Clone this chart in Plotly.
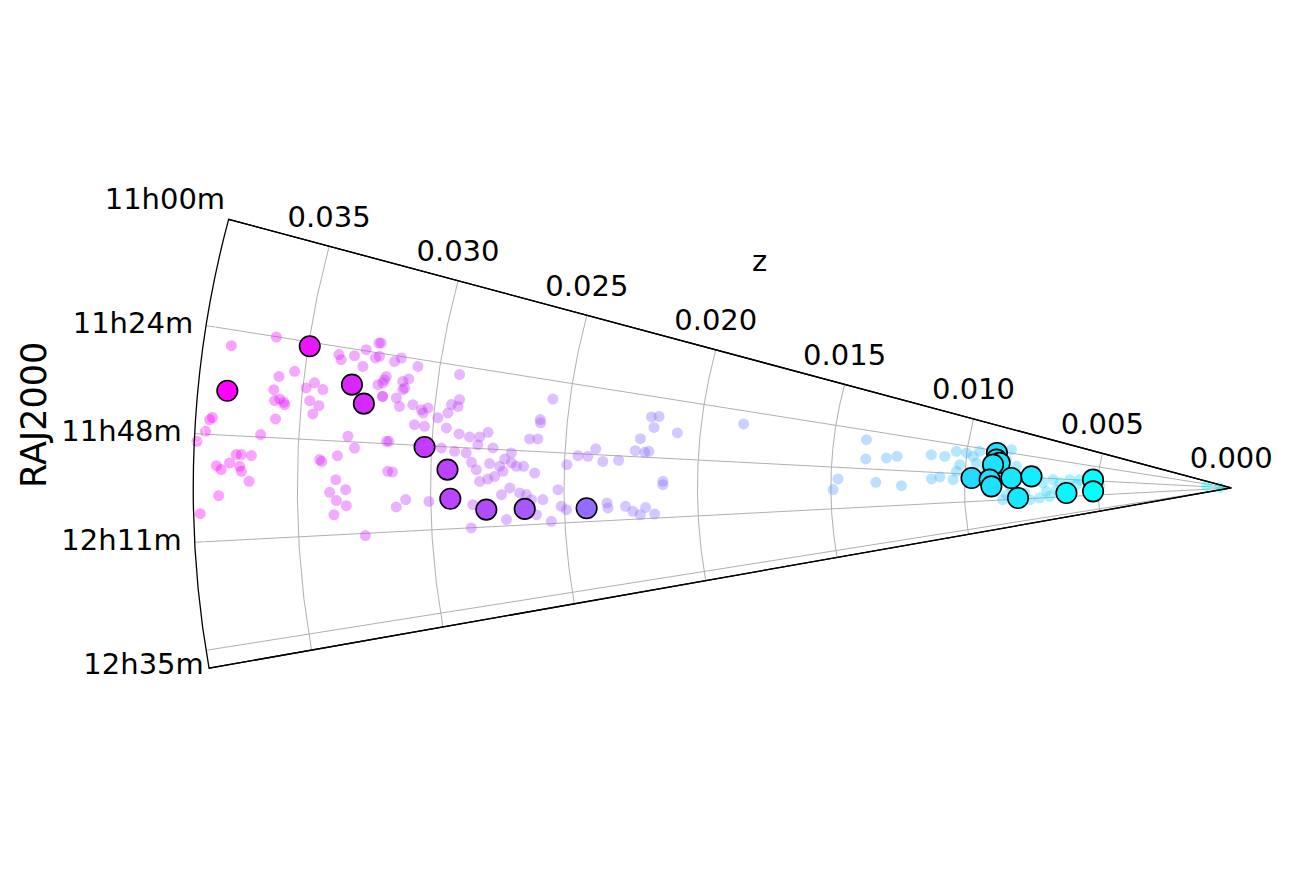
import plotly.graph_objects as go

# all galaxies (faint background points): RA in degrees, redshift z
all_ra = [
    171.90, 171.02, 173.32, 172.90, 174.14, 174.78, 174.66, 174.97, 174.83, 175.87,
    176.17, 176.05, 176.84, 177.42, 176.85, 173.83, 173.46, 173.82, 174.59, 174.85,
    175.39, 171.50, 171.80, 171.42, 170.92, 170.35, 172.03, 171.36, 173.10, 172.71,
    173.84, 176.65, 177.39, 176.84, 178.87, 178.08, 178.07, 178.11, 178.74, 178.96,
    178.57, 178.75, 179.04, 179.61, 180.44, 181.43, 178.22, 178.34, 177.93, 179.47,
    180.11, 180.28, 180.81, 181.15, 181.71, 183.15, 170.32, 171.21, 171.40, 171.10,
    171.50, 172.48, 172.94, 172.67, 172.45, 173.23, 173.10, 173.84, 173.85, 174.40,
    174.19, 174.48, 174.31, 174.70, 175.57, 175.63, 174.95, 175.63, 174.53, 173.90,
    173.47, 173.98, 171.64, 176.83, 176.00, 176.17, 176.12, 175.72, 177.10, 177.30,
    177.38, 176.71, 176.90, 178.07, 178.61, 178.12, 178.31, 177.71, 177.22, 178.01,
    178.27, 178.25, 178.77, 179.50, 179.31, 179.10, 178.69, 178.91, 180.81, 181.30,
    180.96, 181.26, 183.01, 180.53, 180.00, 180.40, 180.54, 180.96, 180.97, 182.50,
    182.20, 182.81, 180.15, 172.53, 174.35, 174.61, 176.00, 175.96, 177.99, 177.17,
    181.57, 181.87, 173.02, 172.87, 174.01, 174.33, 172.52, 175.23, 176.42, 176.52,
    176.40, 176.48, 177.19, 177.58, 177.42, 179.33, 179.67, 181.38, 181.84, 181.74,
    182.24, 182.59, 181.90, 182.58,
    172.46, 175.46, 175.03, 174.60, 173.66, 173.71, 178.69, 180.24, 179.10, 179.60,
    178.28, 177.84, 178.29, 172.41, 172.47, 173.02, 175.10, 176.54, 174.40, 171.72,
    170.12, 172.82, 174.26, 181.71, 178.48, 181.05, 177.33, 178.33, 177.06, 178.78,
    176.86, 182.99, 182.65, 183.32, 181.39, 174.70, 178.50, 175.97, 175.75, 176.95,
    179.00, 179.55, 179.50, 180.56, 179.41, 182.93,
]
all_z = [
    0.03785, 0.03623, 0.03593, 0.03537, 0.03607, 0.03600, 0.03582, 0.03561, 0.03565, 0.03591,
    0.03837, 0.03827, 0.03850, 0.03880, 0.03643, 0.03487, 0.03458, 0.03424, 0.03469, 0.03433,
    0.03453, 0.03381, 0.03370, 0.03323, 0.03283, 0.03240, 0.03286, 0.03244, 0.03221, 0.03199,
    0.03200, 0.03316, 0.03289, 0.03170, 0.03162, 0.03731, 0.03712, 0.03674, 0.03804, 0.03786,
    0.03755, 0.03717, 0.03710, 0.03681, 0.03795, 0.03865, 0.03418, 0.03410, 0.03352, 0.03356,
    0.03319, 0.03379, 0.03354, 0.03317, 0.03364, 0.03250, 0.03232, 0.03230, 0.03171, 0.03148,
    0.03082, 0.03194, 0.03204, 0.03130, 0.03109, 0.03126, 0.03120, 0.03198, 0.03147, 0.03132,
    0.03083, 0.03049, 0.03025, 0.03042, 0.03070, 0.03032, 0.02985, 0.02950, 0.02949, 0.02939,
    0.02911, 0.02914, 0.02923, 0.03162, 0.02901, 0.02861, 0.02823, 0.02793, 0.02964, 0.02914,
    0.02870, 0.02828, 0.02771, 0.02849, 0.02830, 0.02781, 0.02743, 0.02725, 0.02701, 0.02699,
    0.02680, 0.02653, 0.02611, 0.02817, 0.02786, 0.02761, 0.02730, 0.03144, 0.03094, 0.03130,
    0.03007, 0.02843, 0.02852, 0.02735, 0.02704, 0.02667, 0.02642, 0.02623, 0.02580, 0.02719,
    0.02606, 0.02551, 0.02523, 0.02564, 0.02602, 0.02600, 0.02636, 0.02605, 0.02491, 0.02451,
    0.02512, 0.02493, 0.02189, 0.02161, 0.02175, 0.02086, 0.01843, 0.02222, 0.02238, 0.02202,
    0.02187, 0.02386, 0.02414, 0.02357, 0.02298, 0.02130, 0.02130, 0.02340, 0.02337, 0.02271,
    0.02244, 0.02217, 0.02196, 0.02163,
    0.01379, 0.01374, 0.01297, 0.01258, 0.01131, 0.01080, 0.01474, 0.01492, 0.01332, 0.01236,
    0.01124, 0.01093, 0.01043, 0.01039, 0.01001, 0.00975, 0.01021, 0.01032, 0.00960, 0.00953,
    0.00836, 0.00849, 0.00809, 0.00843, 0.00706, 0.00693, 0.00669, 0.00643, 0.00606, 0.00580,
    0.00569, 0.00719, 0.00681, 0.00756, 0.00774, 0.00093, 0.00043, 0.00870, 0.00926, 0.00726,
    0.00493, 0.00624, 0.00530, 0.00654, 0.00830, 0.00858,
]

# selected objects (large outlined markers)
sel_ra = [
    174.47, 171.26, 173.30, 174.45, 177.09, 178.66, 180.79, 181.67, 181.70, 181.80,
    171.50, 173.13, 173.83, 174.41, 177.80, 178.03, 179.62, 177.40, 176.68, 182.69,
    181.74, 176.56, 181.41,
]
sel_z = [
    0.03780, 0.03494, 0.03318, 0.03266, 0.03027, 0.02938, 0.02927, 0.02793, 0.02649, 0.02417,
    0.00888, 0.00886, 0.00873, 0.00897, 0.00974, 0.00906, 0.00899, 0.00825, 0.00750, 0.00800,
    0.00618, 0.00519, 0.00518,
]

ra_ticks = [165, 171, 177, 183, 189]
ra_labels = ["11h00m", "11h24m", "11h48m", "12h11m", "12h35m"]
z_ticks = [0.000, 0.005, 0.010, 0.015, 0.020, 0.025, 0.030, 0.035]

COOL = [[0.0, "rgb(0,255,255)"], [1.0, "rgb(255,0,255)"]]
FONT = "DejaVu Sans"
W, H = 1292, 872
OFF = 8  # page body margin of the html output
Z_MAX = 0.0389
SECTOR = [165, 190]
DOMAIN = dict(
    x=[(193 - OFF) / W, (1231.5 - OFF) / W],
    y=[1 - (668.2 - OFF) / H, 1 - (219.3 - OFF) / H],
)
CLEAR = "rgba(0,0,0,0)"
tick_font = dict(family=FONT, size=29, color="black")

fig = go.Figure()

fig.add_trace(
    go.Scatterpolar(
        r=all_z,
        theta=all_ra,
        mode="markers",
        marker=dict(size=11, color=all_z, colorscale=COOL, opacity=0.38, line=dict(width=0)),
        hoverinfo="skip",
    )
)
fig.add_trace(
    go.Scatterpolar(
        r=sel_z,
        theta=sel_ra,
        mode="markers",
        marker=dict(size=20.5, color=sel_z, colorscale=COOL, line=dict(width=1.6, color="black")),
    )
)

# radial tick labels, centred above the upper edge of the wedge
fig.add_trace(
    go.Scatterpolar(
        r=z_ticks,
        theta=[SECTOR[0]] * len(z_ticks),
        mode="markers+text",
        text=[f"{v:.3f}" for v in z_ticks],
        textposition="top center",
        textfont=tick_font,
        marker=dict(size=18, color=CLEAR),
        cliponaxis=False,
        hoverinfo="skip",
    )
)
# angular tick labels, outside the outer arc
fig.add_trace(
    go.Scatterpolar(
        r=[Z_MAX] * len(ra_ticks),
        theta=ra_ticks,
        mode="markers+text",
        text=ra_labels,
        textposition=["top left", "middle left", "middle left", "middle left", "bottom left"],
        textfont=tick_font,
        marker=dict(size=[4, 19, 19, 19, 2], color=CLEAR),
        cliponaxis=False,
        hoverinfo="skip",
    )
)
# empty trace so the second polar (bottom edge line) is drawn
fig.add_trace(go.Scatterpolar(r=[], theta=[], subplot="polar2", mode="markers"))

grid = "#b0b0b0"
fig.update_layout(
    width=W,
    height=H,
    margin=dict(l=0, r=0, t=0, b=0),
    paper_bgcolor="white",
    showlegend=False,
    font=dict(family=FONT, size=29, color="black"),
    polar=dict(
        domain=DOMAIN,
        sector=SECTOR,
        bgcolor="white",
        radialaxis=dict(
            range=[0, Z_MAX],
            angle=SECTOR[0],
            tickvals=z_ticks,
            showticklabels=False,
            ticks="",
            showline=True,
            linecolor="black",
            linewidth=1.3,
            gridcolor=grid,
            gridwidth=1,
        ),
        angularaxis=dict(
            direction="counterclockwise",
            rotation=0,
            tickvals=ra_ticks,
            showticklabels=False,
            ticks="",
            showline=True,
            linecolor="black",
            linewidth=1.3,
            gridcolor=grid,
            gridwidth=1,
        ),
    ),
    polar2=dict(
        domain=DOMAIN,
        sector=SECTOR,
        bgcolor=CLEAR,
        radialaxis=dict(
            range=[0, Z_MAX],
            angle=SECTOR[1],
            showline=True,
            linecolor="black",
            linewidth=1.3,
            showgrid=False,
            showticklabels=False,
            ticks="",
        ),
        angularaxis=dict(
            direction="counterclockwise",
            rotation=0,
            showline=False,
            showgrid=False,
            showticklabels=False,
            ticks="",
        ),
    ),
    annotations=[
        dict(text="z", x=(760 - OFF) / W, y=1 - (261 - OFF) / H, xref="paper", yref="paper",
             xanchor="center", yanchor="middle", showarrow=False,
             font=dict(family=FONT, size=29, color="black")),
        dict(text="RAJ2000", x=(34 - OFF) / W, y=1 - (415 - OFF) / H, xref="paper", yref="paper",
             xanchor="center", yanchor="middle", textangle=-90, showarrow=False,
             font=dict(family=FONT, size=35, color="black")),
    ],
)

fig.write_html("out.html")
